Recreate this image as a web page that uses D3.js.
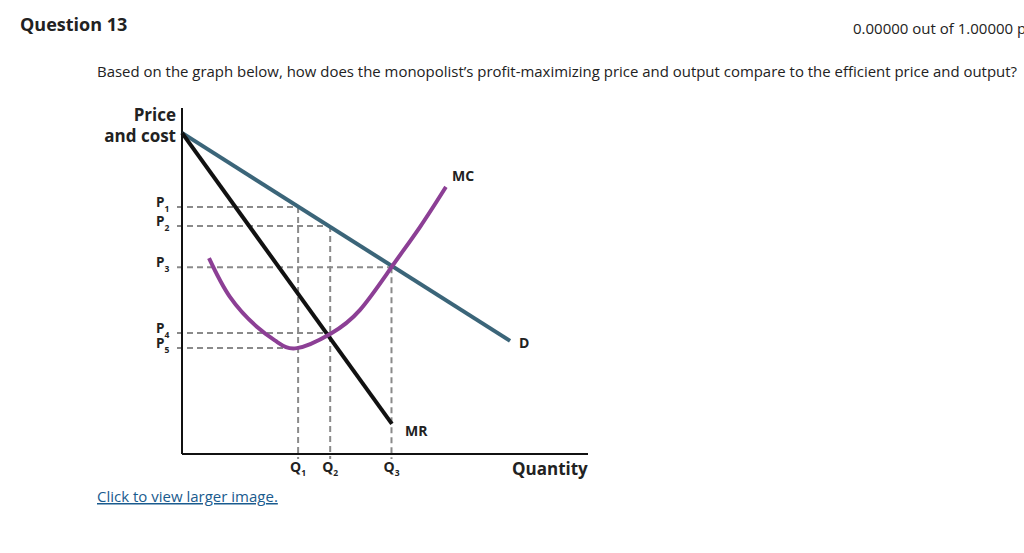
<!DOCTYPE html>
<html><head><meta charset="utf-8">
<script src="https://cdn.jsdelivr.net/npm/d3@7"></script>
<style>
body{margin:0;background:#fff;}
svg text{font-family:"Open Sans",sans-serif;}
</style></head>
<body><svg id="c" width="1024" height="553"></svg>
<script>
// Data (arbitrary economic units)
const demand = [[0, 92.8], [80.8, 32.7]];
const mr = [[0, 92.8], [51.7, 8.7]];
const mc = [[6.65, 56.6], [11.8, 45.4], [18.5, 36.7], [23.4, 32.4], [28.3, 30.6], [36.5, 34.7], [43.8, 41.6], [51.6, 54.0], [58.6, 65.6], [65.0, 77.2]];
const priceTicks = [{n:"1", v:71.4, q:28.6}, {n:"2", v:65.9, q:36.5}, {n:"3", v:54.0, q:51.6}, {n:"4", v:35.0, q:36.5}, {n:"5", v:30.6, q:28.6}];
const qtyTicks = [{n:"1", v:28.6, p:71.4}, {n:"2", v:36.5, p:65.9}, {n:"3", v:51.6, p:54.0}];

const svg = d3.select("#c");
const x = d3.scaleLinear().domain([0, 100]).range([182, 588]);
const y = d3.scaleLinear().domain([0, 100]).range([454, 108]);

// Header
svg.append("text").attr("x", 20).attr("y", 31).attr("font-size", 18).attr("font-weight", 700).attr("fill", "#222").text("Question 13");
svg.append("text").attr("x", 853).attr("y", 34).attr("font-size", 15).attr("fill", "#222").text("0.00000 out of 1.00000 p");
svg.append("text").attr("x", 97).attr("y", 77).attr("font-size", 15).attr("fill", "#222")
  .attr("textLength", 920).attr("lengthAdjust", "spacingAndGlyphs")
  .text("Based on the graph below, how does the monopolist’s profit-maximizing price and output compare to the efficient price and output?");
svg.append("text").attr("x", 97).attr("y", 502).attr("font-size", 15).attr("fill", "#1a5b8e")
  .attr("text-decoration", "underline").text("Click to view larger image.");

// dashed guides
const dash = svg.append("g").attr("stroke", "#8a8a8a").attr("stroke-width", 2).attr("stroke-dasharray", "6,4").attr("fill", "none");
priceTicks.forEach(d => {
  dash.append("line").attr("x1", x(0) - 5).attr("x2", x(d.q)).attr("y1", y(d.v)).attr("y2", y(d.v));
});
qtyTicks.forEach(d => {
  dash.append("line").attr("x1", x(d.v)).attr("x2", x(d.v)).attr("y1", y(d.p)).attr("y2", y(0) + 5);
});

// axes
svg.append("line").attr("x1", x(0)).attr("x2", x(0)).attr("y1", 108).attr("y2", y(0)).attr("stroke", "#111").attr("stroke-width", 2);
svg.append("line").attr("x1", x(0)).attr("x2", 588).attr("y1", y(0)).attr("y2", y(0)).attr("stroke", "#111").attr("stroke-width", 2);

const line = d3.line().x(d => x(d[0])).y(d => y(d[1]));
svg.append("path").attr("d", line(demand)).attr("stroke", "#3b6579").attr("stroke-width", 4).attr("fill", "none");
svg.append("path").attr("d", line(mr)).attr("stroke", "#111").attr("stroke-width", 4).attr("fill", "none");
svg.append("path").attr("d", d3.line().x(d => x(d[0])).y(d => y(d[1])).curve(d3.curveNatural)(mc))
  .attr("stroke", "#8c3f95").attr("stroke-width", 4).attr("fill", "none");

// axis titles
const lab = (t, px, py, anchor, size) => svg.append("text").attr("x", px).attr("y", py).attr("text-anchor", anchor||"start")
  .attr("font-size", size||15).attr("font-weight", 700).attr("fill", "#222").text(t);
lab("Price", 176, 121, "end", 17);
lab("and cost", 176, 142, "end", 17);
lab("Quantity", 512, 475, "start", 17);
lab("MC", 452, 181, "start", 14);
lab("D", 519, 348, "start", 14);
lab("MR", 405, 436, "start", 14);

priceTicks.forEach(d => {
  const t = svg.append("text").attr("x", 156).attr("y", y(d.v)).attr("font-size", 13.5).attr("font-weight", 700).attr("fill", "#222");
  t.append("tspan").text("P");
  t.append("tspan").attr("font-size", 8.5).attr("dy", 5).text(d.n);
});
qtyTicks.forEach(d => {
  const t = svg.append("text").attr("x", x(d.v) - 8).attr("y", 472).attr("font-size", 14).attr("font-weight", 700).attr("fill", "#222");
  t.append("tspan").text("Q");
  t.append("tspan").attr("font-size", 8.5).attr("dy", 4).text(d.n);
});
</script></body></html>
